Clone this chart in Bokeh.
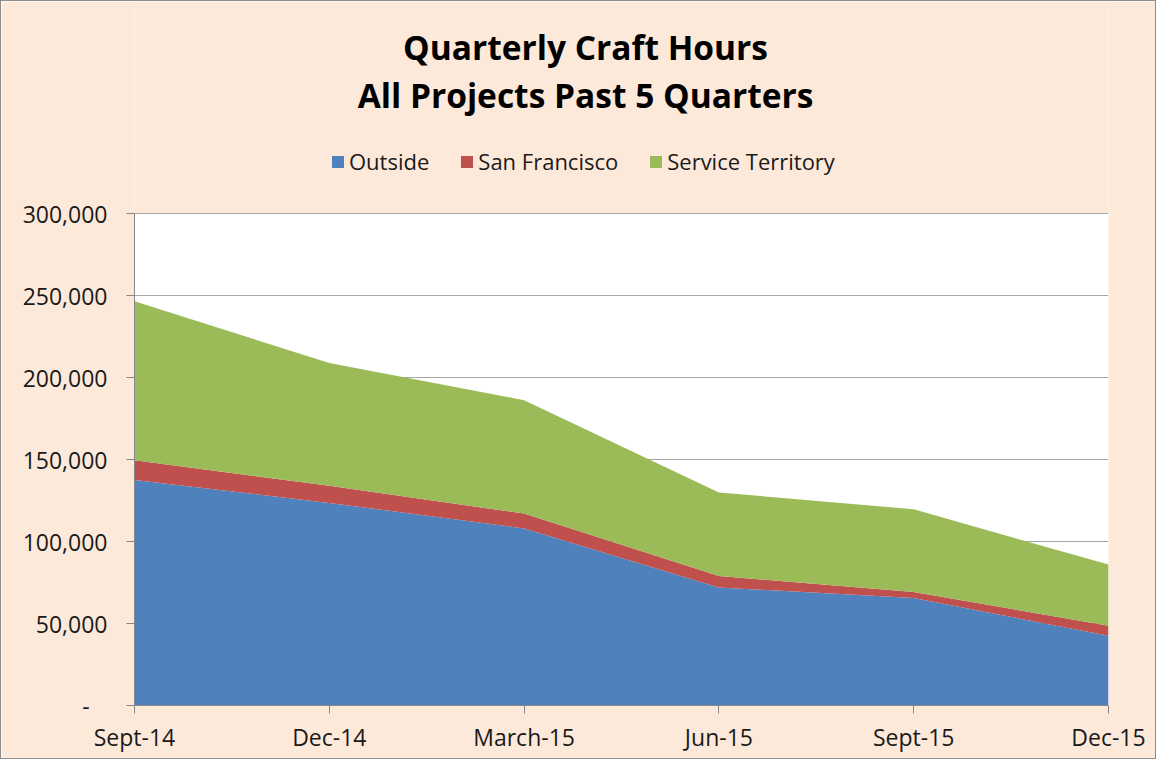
from bokeh.plotting import figure
from bokeh.models import (Range1d, FixedTicker, NumeralTickFormatter, Label, Legend, LegendItem)
from bokeh.embed import file_html
from bokeh.resources import INLINE

quarters = ["Sept-14", "Dec-14", "March-15", "Jun-15", "Sept-15", "Dec-15"]
outside = [137500, 123500, 108000, 72000, 65500, 42500]
san_francisco = [12000, 10500, 9000, 7000, 3700, 6200]
service_territory = [97000, 74800, 69200, 50900, 50400, 37200]
series_names = ["Outside", "San Francisco", "Service Territory"]
colors = ["#4F81BD", "#C0504D", "#9BBB59"]
y_ticks = [0, 50000, 100000, 150000, 200000, 250000, 300000]
title_lines = ["Quarterly Craft Hours", "All Projects Past 5 Quarters"]

FONT = "Open Sans"
PEACH = "#FDE9D9"
W, H = 1156, 759
FRAME_H = 704          # frame covers title + legend area too
PLOT_H = 492           # height of the 0..300,000 plot area
y_max = y_ticks[-1]

p = figure(width=W, height=H, output_backend="svg", toolbar_location=None,
           x_range=Range1d(0, len(quarters) - 1),
           y_range=Range1d(0, y_max * FRAME_H / PLOT_H),
           min_border_left=133, min_border_right=49, min_border_top=0, min_border_bottom=55)
p.border_fill_color = PEACH
p.background_fill_color = PEACH
p.outline_line_color = None
p.styles = {"border": "1px solid #8C8C8C"}

# white plotting area behind the grid
p.quad(left=0, right=len(quarters) - 1, bottom=0, top=y_max,
       fill_color="white", line_color=None, level="image")

xs = list(range(len(quarters)))
data = dict(x=xs, outside=outside, sf=san_francisco, svc=service_territory)
rs = p.varea_stack(["outside", "sf", "svc"], x="x", color=colors, source=data)

p.xaxis.ticker = FixedTicker(ticks=xs)
p.xaxis.major_label_overrides = {i: q for i, q in enumerate(quarters)}
p.yaxis.ticker = FixedTicker(ticks=y_ticks)
p.yaxis.formatter = NumeralTickFormatter(format="0,0")
p.yaxis.major_label_overrides = {0: "-\u00a0\u00a0\u00a0"}
p.yaxis.bounds = (0, y_max)

for ax in (p.xaxis[0], p.yaxis[0]):
    ax.axis_line_color = "#868686"
    ax.major_tick_line_color = "#868686"
    ax.major_tick_in = 0
    ax.major_tick_out = 8
    ax.minor_tick_line_color = None
    ax.major_label_text_font = FONT
    ax.major_label_text_font_size = "23px"
    ax.major_label_text_color = "#1a1a1a"
p.yaxis.major_label_standoff = 19
p.xaxis.major_label_standoff = 7

p.xgrid.grid_line_color = None
p.ygrid.grid_line_color = "#A6A6A6"
p.ygrid.ticker = FixedTicker(ticks=y_ticks)

for t, yb in zip(title_lines, [659, 611]):
    p.add_layout(Label(x=451, y=yb, x_units="screen", y_units="screen", text=t,
                       text_align="center", text_baseline="alphabetic",
                       text_font=FONT, text_font_style="bold", text_font_size="33.5px",
                       text_color="black"))

legend = Legend(items=[LegendItem(label=n, renderers=[r]) for n, r in zip(series_names, rs)],
                orientation="horizontal", location=(196, 529),
                background_fill_alpha=0, border_line_color=None,
                label_text_font=FONT, label_text_font_size="22px", label_text_color="#1a1a1a",
                glyph_width=15, glyph_height=15, spacing=30, label_standoff=4,
                padding=0, margin=0)
p.add_layout(legend, "center")

open("out.html", "w").write(file_html(p, INLINE))
